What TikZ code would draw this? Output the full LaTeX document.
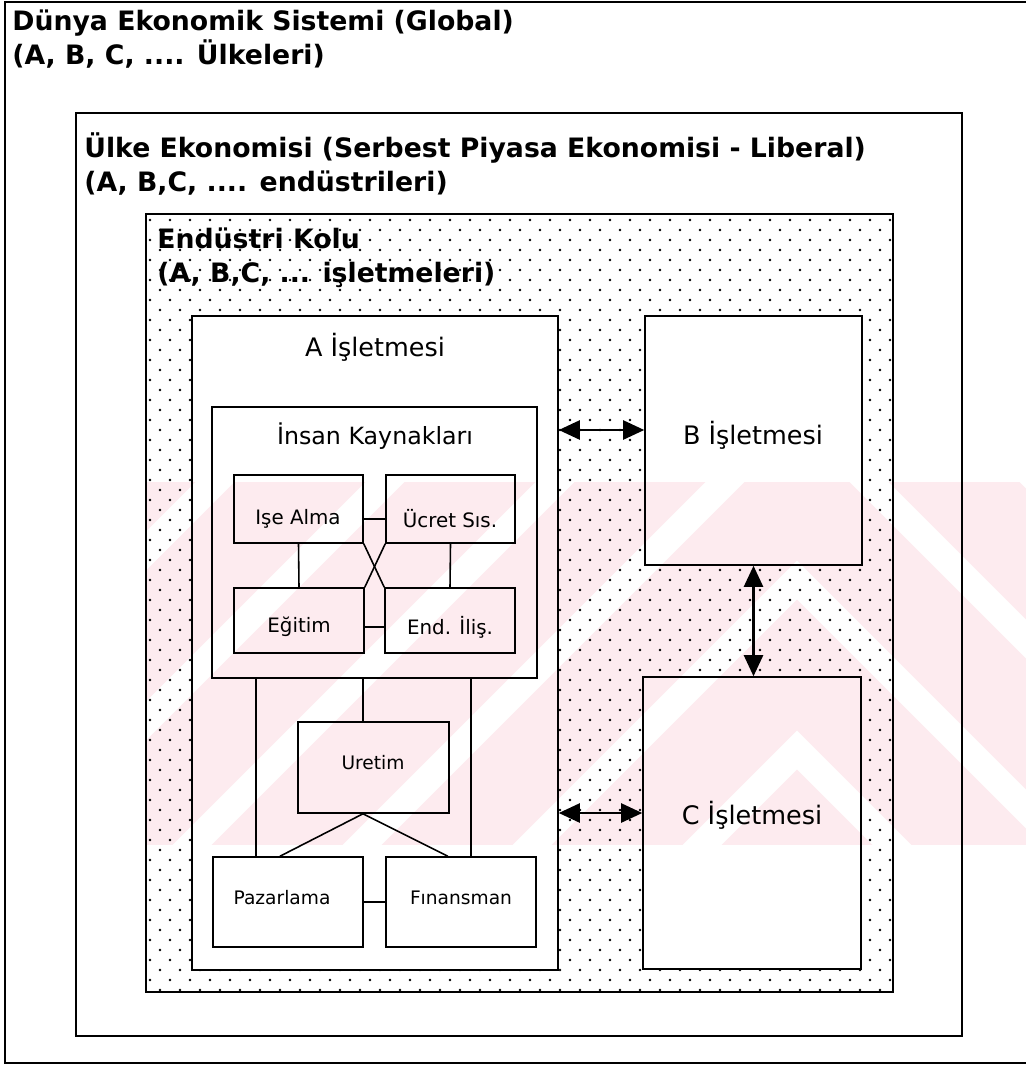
\documentclass[tikz,border=0pt]{standalone}
\usepackage{fontspec}
\setmainfont{DejaVu Sans}
\usetikzlibrary{arrows.meta, calc}

\definecolor{wmpink}{RGB}{253,235,239}

\begin{document}
\begin{tikzpicture}[
    x=0.02cm, y=-0.02cm,
    frame/.style={draw, line width=0.9pt},
    box/.style={draw, line width=0.9pt, inner sep=0pt},
    ln/.style={line width=0.9pt},
    arr/.style={{Triangle[length=0.42cm,width=0.38cm]}-{Triangle[length=0.42cm,width=0.38cm]}, line width=1.3pt},
    head/.style={font=\fontsize{15.2}{19.5}\selectfont\bfseries, align=left, anchor=north west, inner sep=0pt},
    big/.style={font=\fontsize{14.5}{17}\selectfont, inner sep=0pt},
    small/.style={font=\fontsize{11.3}{13}\selectfont, inner sep=0pt}
  ]
    \useasboundingbox (0,0) rectangle (1026,1067);

    % watermark
    \begin{scope}
      \clip (146,482) rectangle (1026,845);
      \fill[wmpink] (146,482) rectangle (1026,845);
      \begin{scope}
        \clip (146,482) rectangle (797,845);
        \foreach \c in {1547,1377,...,500}
          \draw[white, line width=0.55cm] (\c-400,400) -- (\c-950,950);
      \end{scope}
      \begin{scope}
        \clip (797,482) rectangle (1026,845);
        \foreach \d in {-123,47,...,600}
          \draw[white, line width=0.55cm] (\d+400,400) -- (\d+950,950);
      \end{scope}
    \end{scope}

    % dotted field
    \begin{scope}
      \clip (146,214) rectangle (893,316)
            (146,316) rectangle (192,970)
            (558,316) rectangle (645,970)
            (862,316) rectangle (893,970)
            (645,565) rectangle (862,677)
            (146,970) rectangle (893,992);
      \foreach \i in {0,...,37} {
        \foreach \j in {0,...,38} {
          \fill (150+20*\i,220+20*\j) circle (0.8pt);
          \fill (160+20*\i,230+20*\j) circle (0.8pt);
        }
      }
    \end{scope}

    % frames
    \draw[frame] (1030,2) -- (5,2) -- (5,1063) -- (1030,1063);
    \draw[frame] (76,113) rectangle (962,1036);
    \draw[frame] (146,214) rectangle (893,992);

    \node[head] (dunya) at (12,9) {Dünya Ekonomik Sistemi (Global)\\(A, B, C, .... Ülkeleri)};
    \node[head] (ulke) at (84,132) {Ülke Ekonomisi (Serbest Piyasa Ekonomisi - Liberal)\\(A, B,C, .... endüstrileri)};
    \node[head] (endustri) at (157,227) {Endüstri Kolu\\(A, B,C, ... işletmeleri)};

    % firms
    \node[box, minimum width=7.32cm, minimum height=13.08cm] (A) at (375,643) {};
    \node[box, minimum width=4.34cm, minimum height=4.98cm] (B) at (753.5,440.5) {};
    \node[box, minimum width=4.36cm, minimum height=5.84cm] (C) at (752,823) {};
    \node[big] (At) at (375,347) {A İşletmesi};
    \node[big] (Bt) at (753,435) {B İşletmesi};
    \node[big] (Ct) at (752,815) {C İşletmesi};

    % departments
    \node[box, minimum width=6.5cm, minimum height=5.42cm] (ik) at (374.5,542.5) {};
    \node[big, font=\fontsize{13.5}{16}\selectfont] (ikt) at (375,436) {İnsan Kaynakları};
    \node[box, minimum width=2.58cm, minimum height=1.36cm] (ise) at (298.5,509) {};
    \node[box, minimum width=2.58cm, minimum height=1.36cm] (ucret) at (450.5,509) {};
    \node[box, minimum width=2.6cm, minimum height=1.3cm] (egitim) at (299,620.5) {};
    \node[box, minimum width=2.6cm, minimum height=1.3cm] (endil) at (450,620.5) {};
    \node[small] (iset) at (298,519) {Işe Alma};
    \node[small] (ucrett) at (450,519) {Ücret Sıs.};
    \node[small] (egitimt) at (299,627) {Eğitim};
    \node[small] (endilt) at (450,627) {End. İliş.};

    \node[box, minimum width=3.02cm, minimum height=1.82cm] (uretim) at (373.5,767.5) {};
    \node[box, minimum width=3.0cm, minimum height=1.8cm] (paz) at (288,902) {};
    \node[box, minimum width=3.0cm, minimum height=1.8cm] (fin) at (461,902) {};
    \node[small, font=\fontsize{10.6}{12}\selectfont] (uretimt) at (373,763) {Uretim};
    \node[small, font=\fontsize{10.6}{12}\selectfont] (pazt) at (282,898) {Pazarlama};
    \node[small, font=\fontsize{10.6}{12}\selectfont] (fint) at (461,898) {Fınansman};

    % links inside A
    \draw[ln] (ise.east |- iset) -- (ucret.west |- iset);
    \draw[ln] (egitim.east |- egitimt) -- (endil.west |- egitimt);
    \draw[ln] (ise.south) -- (egitim.north);
    \draw[ln] (ucret.south) -- (endil.north);
    \draw[ln] (ise.south east) -- (endil.north west);
    \draw[ln] (ucret.south west) -- (egitim.north east);
    \coordinate (utop) at ([xshift=-0.21cm]uretim.north);
    \coordinate (apex) at ([xshift=-0.21cm]uretim.south);
    \coordinate (pl) at ($(paz.north west)!0.287!(paz.north east)$);
    \coordinate (fr) at ($(fin.north west)!0.567!(fin.north east)$);
    \draw[ln] (utop) -- (utop |- ik.south);
    \draw[ln] (pl) -- (pl |- ik.south);
    \draw[ln] (fr) -- (fr |- ik.south);
    \draw[ln] (apex) -- ($(paz.north west)!0.447!(paz.north east)$);
    \draw[ln] (apex) -- ($(fin.north west)!0.413!(fin.north east)$);
    \draw[ln] (paz.east) -- (fin.west);

    % links between firms
    \draw[arr] ([yshift=0.21cm]A.east |- B.west) -- ([yshift=0.21cm]B.west);
    \draw[arr] ([yshift=0.2cm]A.east |- C.west) -- ([yshift=0.2cm]C.west);
    \draw[arr] (B.south) -- (B.south |- C.north);
  \end{tikzpicture}
\end{document}
